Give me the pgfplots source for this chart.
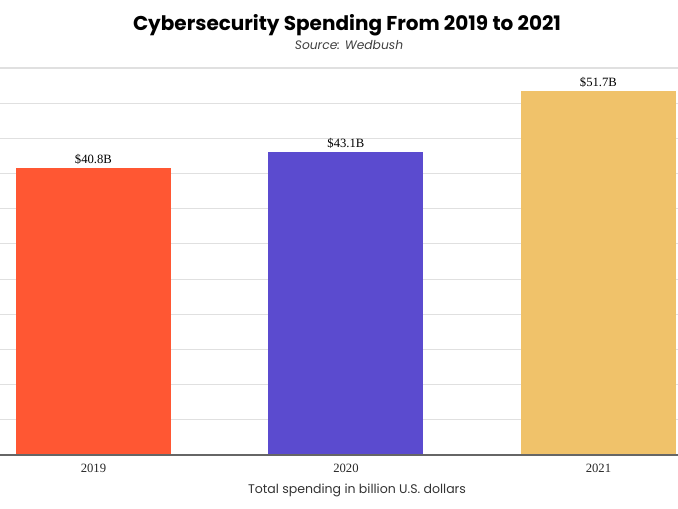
\documentclass[border=0pt]{standalone}
\usepackage{fontspec}
\setmainfont{Liberation Serif}
\newfontfamily\poppins{Poppins}
\usepackage{pgfplots}
\pgfplotsset{compat=1.18}
\definecolor{cA}{RGB}{255,87,51}
\definecolor{cB}{RGB}{91,75,207}
\definecolor{cC}{RGB}{240,194,106}
\definecolor{gridc}{RGB}{224,224,224}
\begin{document}
\begin{tikzpicture}
\path[use as bounding box] (0,-40.5pt) rectangle (508.5pt,341.25pt);
\begin{axis}[
  scale only axis,
  width=508.5pt, height=290.25pt,
  xmin=-0.37, xmax=2.315,
  ymin=0, ymax=55,
  ybar, bar width=116.25pt, bar shift=0pt,
  axis line style={draw=none},
  tick style={draw=none},
  ytick={0,5,...,55}, yticklabels={},
  ymajorgrids, grid style={color=gridc, line width=0.8pt},
  xtick={0,1,2}, xticklabels={2019,2020,2021},
  xticklabel style={font=\fontsize{9.5}{11}\selectfont, text=black!85, yshift=1pt},
  nodes near coords,
  point meta=explicit symbolic,
  every node near coord/.append style={font=\fontsize{9.5}{11}\selectfont, text=black, yshift=-1pt},
  clip=false,
]
\addplot[fill=cA, draw=none] coordinates {(0,40.8) [\$40.8B]};
\addplot[fill=cB, draw=none] coordinates {(1,43.1) [\$43.1B]};
\addplot[fill=cC, draw=none] coordinates {(2,51.7) [\$51.7B]};
\draw[color=black!60, line width=1.3pt] (rel axis cs:0,0) -- (rel axis cs:1,0);
\end{axis}
\node[font={\poppins\bfseries\fontsize{15}{18}\selectfont}] at (260.25pt,322.5pt) {Cybersecurity Spending From 2019 to 2021};
\node[font={\poppins\itshape\fontsize{9.2}{11}\selectfont}, text=black!75] at (261.75pt,307.5pt) {Source: Wedbush};
\node[font={\poppins\fontsize{9.4}{11}\selectfont}, text=black!80] at (267.75pt,-26.25pt) {Total spending in billion U.S. dollars};
\end{tikzpicture}
\end{document}
